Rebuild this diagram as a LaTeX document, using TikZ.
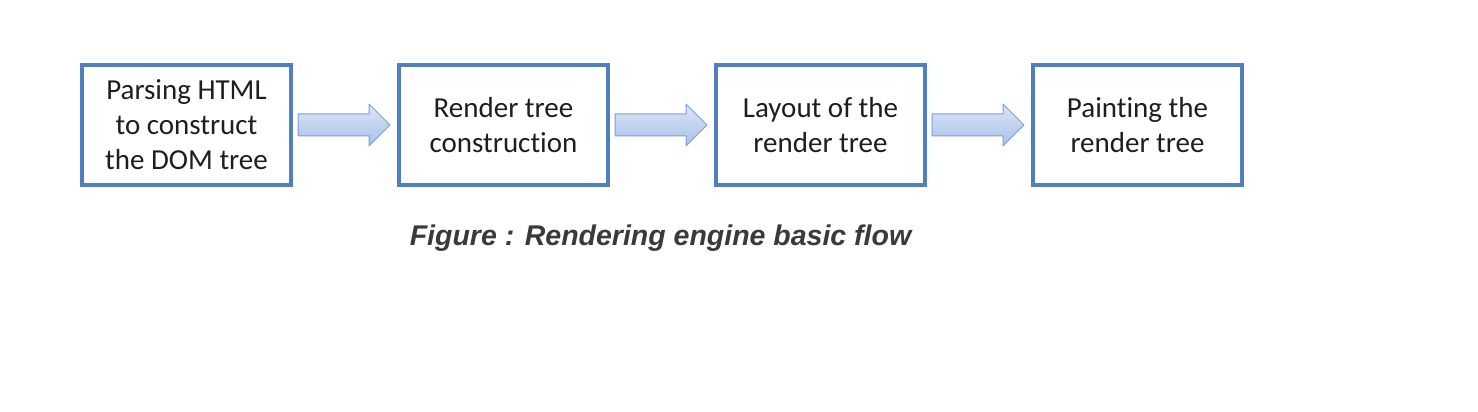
\documentclass[tikz,border=0pt]{standalone}
\usepackage{fontspec}
\setmainfont{Carlito}[Ligatures=NoCommon]
\newfontfamily\capfont{Liberation Sans}
\usetikzlibrary{calc}
\definecolor{boxblue}{RGB}{79,127,190}
\definecolor{arrborder}{RGB}{128,158,212}
\definecolor{arrtop}{RGB}{220,230,246}
\definecolor{arrbot}{RGB}{166,193,234}
\definecolor{txt}{RGB}{30,30,30}
\definecolor{captxt}{RGB}{58,58,58}
\tikzset{
  stagebox/.style={draw=boxblue, line width=4pt, fill=white, minimum width=209pt, minimum height=120pt,
    inner sep=0pt, outer sep=0pt, align=center, text=txt,
    font=\fontsize{29}{35}\selectfont},
  flowarr/.style={draw=arrborder, line width=1pt, line join=round, top color=arrtop, bottom color=arrbot},
  captionstyle/.style={font=\capfont\bfseries\itshape\fontsize{28.5}{32}\selectfont, text=captxt, anchor=base, inner sep=0pt}
}
\newcommand\flowarrow[2]{%
  \path[flowarr] let \p1=($(#1.east)+(7,0)$), \p2=($(#2.west)+(-9,0)$) in
    (\x1,\y1+11) -- (\x2-21,\y1+11) -- (\x2-21,\y1+21) -- (\x2,\y1) -- (\x2-21,\y1-21) -- (\x2-21,\y1-11) -- (\x1,\y1-11) -- cycle;}
\begin{document}
\begin{tikzpicture}[x=1pt,y=1pt]
\useasboundingbox[fill=white] (0,0) rectangle (1478,412);
\node[stagebox] (b1) at (186.5,287) {Parsing HTML\\to construct\\the DOM tree};
\node[stagebox] (b2) at (503.5,287) {Render tree\\construction};
\node[stagebox] (b3) at (820.5,287) {Layout of the\\render tree};
\node[stagebox] (b4) at (1137.5,287) {Painting the\\render tree};
\flowarrow{b1}{b2}
\flowarrow{b2}{b3}
\flowarrow{b3}{b4}
\node[captionstyle] (cap) at (660.5,166) {Figure : Rendering engine basic flow};
\end{tikzpicture}
\end{document}
